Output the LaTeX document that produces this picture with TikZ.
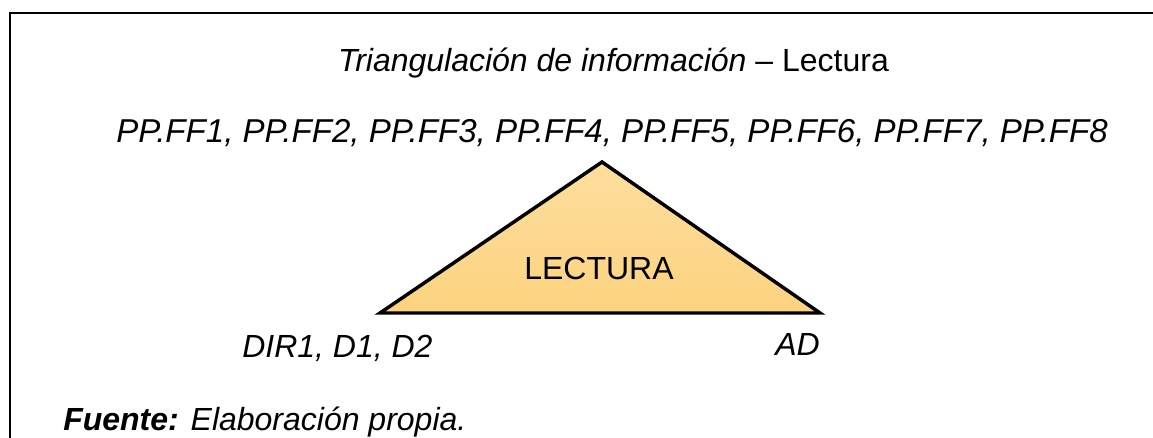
\documentclass[tikz,border=0pt]{standalone}
\usepackage{fontspec}
\setmainfont{Liberation Sans}
\usepackage{xcolor}
\usetikzlibrary{calc}
\definecolor{triTop}{RGB}{254,222,158}
\definecolor{triBot}{RGB}{252,211,127}
\begin{document}
\begin{tikzpicture}[x=0.75pt, y=-0.75pt, font=\fontsize{24}{28}\selectfont]
	\def\lw{2.6pt}
	\useasboundingbox (0,0) rectangle (1153,438);
	
	\draw[line width=1.6pt] (1153,13) -- (10,13) -- (10,438);
	
	\node[anchor=base, inner sep=0] (title) at (613.5,72) {\textit{Triangulación de información} -- Lectura};
	\node[anchor=base, inner sep=0, font=\fontsize{24.8}{28}\selectfont] (ppff) at (612,143) {\textit{PP.FF1, PP.FF2, PP.FF3, PP.FF4, PP.FF5, PP.FF6, PP.FF7, PP.FF8}};
	
	\coordinate (apex) at (602,162);
	\coordinate (bl) at (380,313);
	\coordinate (br) at (820,313);
	\shade[top color=triTop, bottom color=triBot] (apex) -- (bl) -- (br) -- cycle;
	\draw[line width=\lw, line join=miter] (apex) -- (bl) -- (br) -- cycle;
	\node[anchor=base, inner sep=0] (lect) at (599,280) {LECTURA};
	
	\node[anchor=base west, inner sep=0] (dir) at (242,357) {\textit{DIR1, D1, D2}};
	\node[anchor=base east, inner sep=0] (ad) at (820,355) {\textit{AD}};
	
	\node[anchor=base west, inner sep=0] (fuente) at (63,430) {\textit{\textbf{Fuente:} Elaboración propia.}};
\end{tikzpicture}
\end{document}
